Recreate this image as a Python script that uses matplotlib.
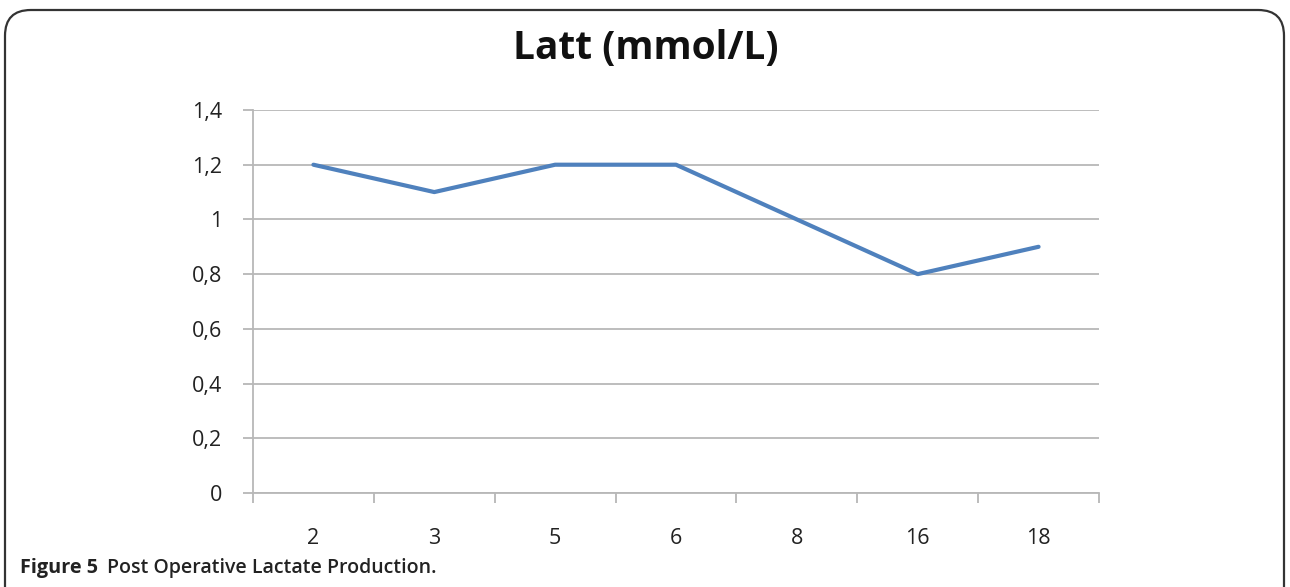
import matplotlib
matplotlib.use("Agg")
import matplotlib.pyplot as plt
from matplotlib.patches import FancyBboxPatch

categories = ["2", "3", "5", "6", "8", "16", "18"]
values = [1.2, 1.1, 1.2, 1.2, 1.0, 0.8, 0.9]
yticks = [0, 0.2, 0.4, 0.6, 0.8, 1.0, 1.2, 1.4]
ytick_labels = ["0", "0,2", "0,4", "0,6", "0,8", "1", "1,2", "1,4"]
title = "Latt (mmol/L)"

plt.rcParams['font.family'] = ['Open Sans', 'DejaVu Sans']

fig = plt.figure(figsize=(12.9, 5.87), dpi=100)
ax = fig.add_axes([253/1290, 1-493/587, (1099-253)/1290, (493-110)/587])

x = list(range(len(categories)))
ax.plot(x, values, color="#4F81BD", lw=3.0, solid_capstyle="round", solid_joinstyle="round")
ax.set_xlim(-0.5, len(categories) - 0.5)
ax.set_ylim(0, 1.4)
ax.set_yticks(yticks)
ax.set_yticklabels(ytick_labels, fontsize=15.5, color="#222222")
ax.set_xticks(x)
ax.set_xticklabels(categories, fontsize=15.5, color="#222222")
ax.set_xticks([i - 0.5 for i in range(len(categories) + 1)], minor=True)
ax.tick_params(axis='x', which='major', length=0, pad=25)
ax.tick_params(axis='x', which='minor', length=7, color="#B0B0B0", width=1.2, direction='out')
ax.tick_params(axis='y', length=7, color="#B0B0B0", width=1.2, pad=15)
ax.grid(axis='y', color="#B8B8B8", lw=1.3)
ax.set_axisbelow(True)
for s in ["top", "right"]:
    ax.spines[s].set_visible(False)
ax.spines["left"].set_color("#B8B8B8")
ax.spines["bottom"].set_color("#B8B8B8")
ax.spines["left"].set_linewidth(1.3)
ax.spines["bottom"].set_linewidth(1.3)

fig.text(646/1290, 1-48/587, title, ha="center", va="center", fontsize=28, fontweight="bold", color="#111111")

fig.text(20/1290, 1-568/587, "Figure 5", ha="left", va="center", fontsize=14.3, fontweight="bold", color="#222222")
fig.text(107/1290, 1-568/587, "Post Operative Lactate Production.", ha="left", va="center", fontsize=14, fontweight="semibold", color="#222222")

box = FancyBboxPatch((5/1290, -0.1), (1284-5)/1290, 1.1 - 10/587,
                     boxstyle="round,pad=0,rounding_size=0.02",
                     transform=fig.transFigure, fill=False, ec="#333333", lw=1.6,
                     mutation_aspect=1290/587)
fig.patches.append(box)

fig.savefig("out.png", dpi=100)
